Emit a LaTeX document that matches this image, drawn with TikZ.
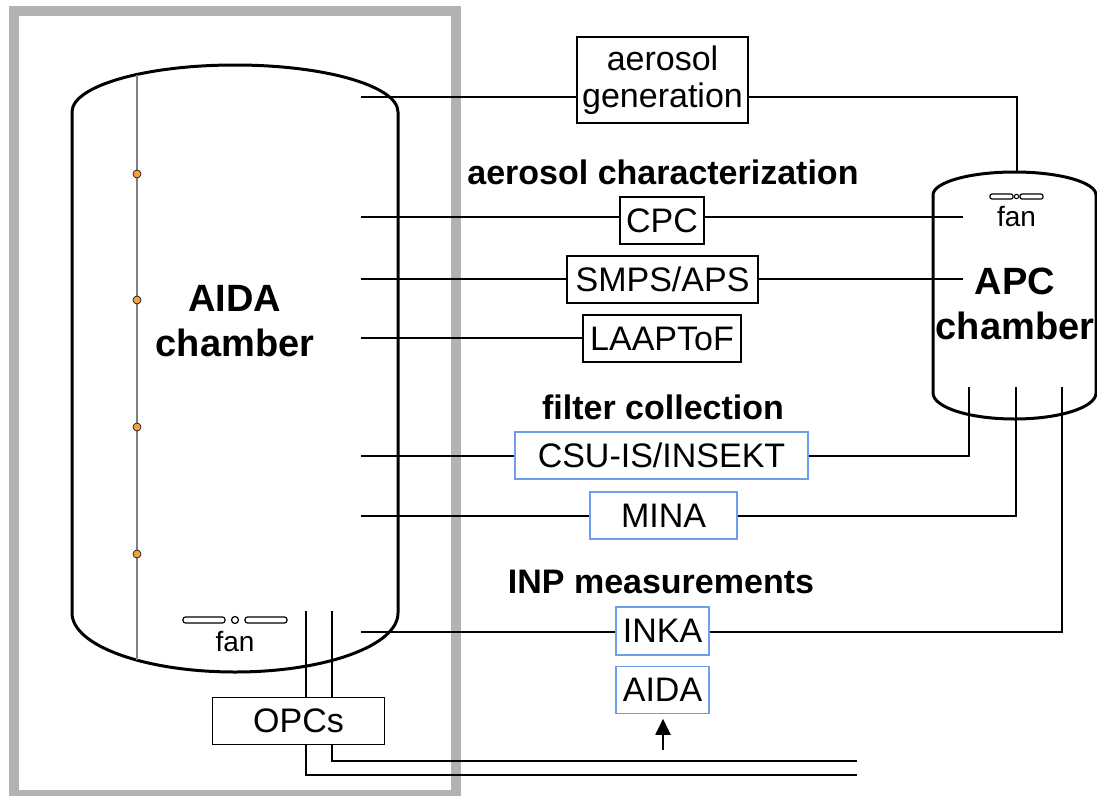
\documentclass[tikz,border=0pt]{standalone}
\usepackage{fontspec}
\setmainfont{Liberation Sans}
\usetikzlibrary{arrows.meta, positioning}
\definecolor{boxblue}{HTML}{6D9EEB}
\definecolor{dotorange}{HTML}{F5A03A}

\begin{document}
\begin{tikzpicture}[
    x=1pt, y=-1pt,
    inst/.style={rectangle, draw, fill=white, line width=1.2pt, inner sep=0pt, align=center, font=\fontsize{34}{37}\selectfont},
    sampler/.style={inst, draw=boxblue},
    heading/.style={inner sep=0pt, font=\fontsize{34}{40}\selectfont\bfseries},
    title/.style={inner sep=0pt, align=center, font=\fontsize{38}{45}\selectfont\bfseries},
    fanlabel/.style={inner sep=0pt, font=\fontsize{28}{30}\selectfont},
    sensor/.style={circle, draw, fill=dotorange, inner sep=0pt, minimum size=8pt, line width=0.6pt},
    chamber/.style={line width=3pt},
    link/.style={line width=1.2pt},
    inlet/.style={line width=2pt, -{Stealth[length=16pt, width=15pt, inset=0pt]}},
    fanblade/.style={line width=1.2pt, rounded corners=2.5pt}
]
    \useasboundingbox (0,0) rectangle (1097,795);

    % frame round the AIDA side
    \draw[black!30, line width=10pt] (14,11) rectangle (456,795);

    % AIDA chamber with rod and sensors
    \draw[chamber] (72,613) -- (72,112)
        arc[start angle=180, end angle=0, x radius=163pt, y radius=47pt] -- (398,613)
        arc[start angle=0, end angle=-180, x radius=163pt, y radius=59pt] -- cycle;
    \draw[black!50, line width=1.2pt] (137,75) -- (137,660);
    \foreach \y in {174,300,427,554}
        \node[sensor] (s\y) at (137,\y) {};
    \node[title] (aidalabel) at (235,321) {AIDA\\chamber};

    % AIDA fan
    \draw[fanblade] (183,617) rectangle (225,623);
    \draw[line width=1.2pt] (235,620) circle[radius=3.5pt];
    \draw[fanblade] (245,617) rectangle (287,623);
    \node[fanlabel] (aidafan) at (235,641) {fan};

    % APC chamber
    \draw[chamber] (933,393) -- (933,195)
        arc[start angle=180, end angle=0, x radius=81.5pt, y radius=23pt] -- (1096,393)
        arc[start angle=0, end angle=-180, x radius=81.5pt, y radius=26pt] -- cycle;
    \node[title] (apclabel) at (1015,303.5) {APC\\chamber};
    \draw[fanblade, rounded corners=2pt] (990,194) rectangle (1013,199);
    \draw[line width=1pt] (1016.5,196.5) circle[radius=2.2pt];
    \draw[fanblade, rounded corners=2pt] (1020,194) rectangle (1043,199);
    \node[fanlabel] (apcfan) at (1016.5,217) {fan};

    % headings
    \node[heading] (hchar) at (663,172.5) {aerosol characterization};
    \node[heading] (hfilter) at (663,407) {filter collection};
    \node[heading] (hinp) at (661,582) {INP measurements};

    % instruments
    \node[inst, minimum width=171pt, minimum height=86pt] (gen) at (662.5,80) {aerosol\\generation};
    \node[inst, minimum width=84pt, minimum height=47pt] (cpc) at (662,220.5) {CPC};
    \node[inst, minimum width=191pt, minimum height=47pt] (smps) at (662.5,279.5) {SMPS/APS};
    \node[inst, minimum width=158pt, minimum height=47pt] (laaptof) at (662,338.5) {LAAPToF};
    \node[sampler, minimum width=293pt, minimum height=47pt] (csu) at (661.5,455.5) {CSU-IS/INSEKT};
    \node[sampler, minimum width=147pt, minimum height=47pt] (mina) at (663.5,515.5) {MINA};
    \node[sampler, minimum width=93pt, minimum height=48pt] (inka) at (662.5,631) {INKA};
    \node[sampler, minimum width=93pt, minimum height=47pt, below=10pt of inka] (aidabox) {AIDA};

    % ports on the AIDA wall
    \coordinate (g0) at (361,97);
    \coordinate (c0) at (361,217);
    \coordinate (p0) at (361,279);
    \coordinate (l0) at (361,338);
    \coordinate (f0) at (361,456);
    \coordinate (m0) at (361,516);
    \coordinate (i0) at (361,632);
    % ports on the APC side
    \coordinate (g1) at (1017,173);
    \coordinate (c1) at (963,217);
    \coordinate (p1) at (963,279);
    \coordinate (f1) at (969,387);
    \coordinate (m1) at (1016,387);
    \coordinate (i1) at (1062,387);

    \draw[link] (g0) -- (gen.west |- g0);
    \draw[link] (gen.east |- g0) -| (g1);
    \draw[link] (c0) -- (cpc.west |- c0);
    \draw[link] (cpc.east |- c0) -- (c1);
    \draw[link] (p0) -- (smps.west |- p0);
    \draw[link] (smps.east |- p0) -- (p1);
    \draw[link] (l0) -- (laaptof.west |- l0);
    \draw[link] (f0) -- (csu.west |- f0);
    \draw[link] (csu.east |- f0) -| (f1);
    \draw[link] (m0) -- (mina.west |- m0);
    \draw[link] (mina.east |- m0) -| (m1);
    \draw[link] (i0) -- (inka.west |- i0);
    \draw[link] (inka.east |- i0) -| (i1);

    % OPC lines out of the chamber floor
    \coordinate (o1) at (306,611);
    \coordinate (o2) at (332,611);
    \coordinate (e1) at (857,775);
    \coordinate (e2) at (857,761);
    \draw[link] (o1) |- (e1);
    \draw[link] (o2) |- (e2);
    \node[inst, minimum width=172pt, minimum height=47pt] (opcs) at (298.5,721) {OPCs};

    % sample inlet to the AIDA INP instrument
    \coordinate (a0) at (663,750);
    \draw[inlet, shorten >=5pt] (a0) -- (aidabox.south -| a0);
\end{tikzpicture}
\end{document}
